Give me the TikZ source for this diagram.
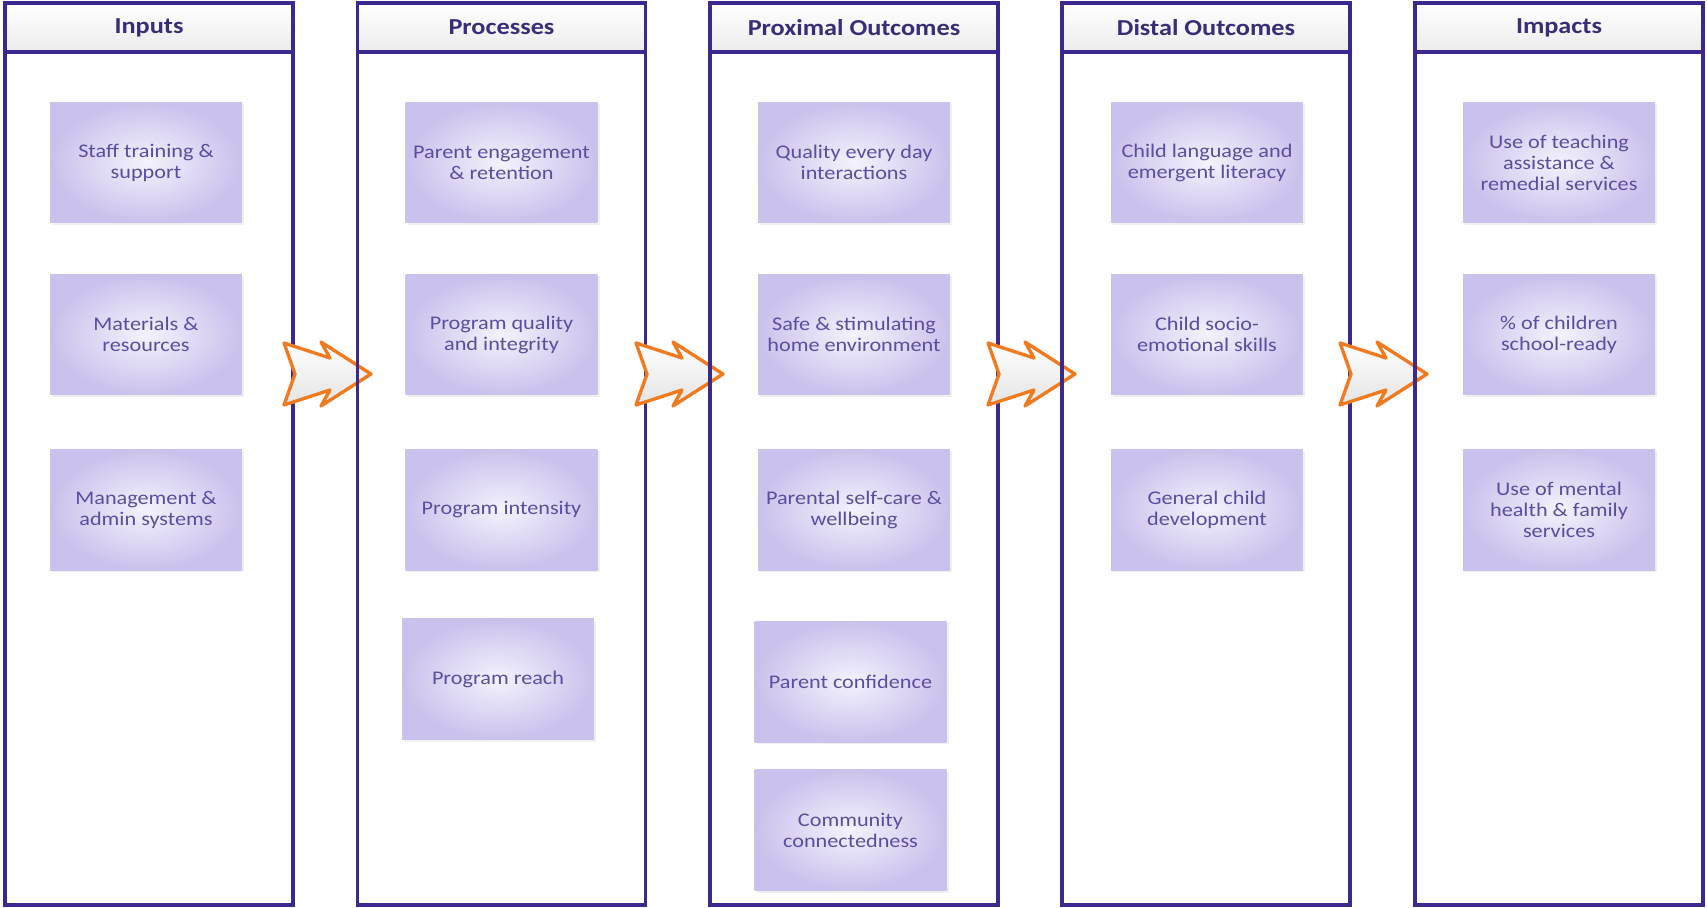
\documentclass[tikz,border=0pt]{standalone}
\usepackage{fontspec}
\setmainfont{Carlito}[FakeStretch=1.15]
\usetikzlibrary{positioning,shadows}

\definecolor{frame}{RGB}{60,40,142}
\definecolor{headtext}{RGB}{58,44,118}
\definecolor{headgray}{RGB}{236,236,236}
\definecolor{boxtext}{RGB}{92,78,158}
\definecolor{boxin}{RGB}{244,242,252}
\definecolor{boxout}{RGB}{202,193,236}
\definecolor{orng}{RGB}{240,122,32}
\definecolor{arrgray}{RGB}{228,228,228}

\begin{document}
\begin{tikzpicture}[x=0.02cm, y=-0.02cm,
    head/.style = {draw=frame, line width=2.1pt, minimum width=5.76cm, minimum height=0.98cm,
        top color=white, bottom color=headgray, text=headtext, font=\fontsize{13}{15}\selectfont\bfseries},
    body/.style = {draw=frame, line width=2.1pt, minimum width=5.76cm, minimum height=17.06cm},
    box/.style = {inner color=boxin, outer color=boxout, minimum width=3.84cm, minimum height=2.42cm,
        align=center, text=boxtext, font=\fontsize{11}{12}\selectfont,
        drop shadow={shadow xshift=1.2pt, shadow yshift=-1.2pt, opacity=0.12}},
    zigarrow/.pic = {
        \draw[orng, line width=1.9pt, line join=round, top color=white, bottom color=arrgray]
            (-11,-31) -- (35,-16) -- (26,-32) -- (76,0) -- (26,32) -- (35,16) -- (-11,31) -- (0,0) -- cycle;
    }]

    \useasboundingbox (0,0) rectangle (1707,907);

    % inputs
    \node[body] (cIn) at (149,478.5) {};
    \node[head] (hIn) at (149,27.5) {Inputs};
    \node[box] (in1) at (146,162.5) {Staff training \&\\support};
    \node[box] (in2) at (146,334.5) {Materials \&\\resources};
    \node[box] (in3) at (146,509.5) {Management \&\\admin systems};
    \pic at (295,374) {zigarrow};

    % processes
    \node[body] (cPr) at (501.5,478.5) {};
    \node[head] (hPr) at (501.5,27.5) {Processes};
    \node[box] (pr1) at (501.5,162.5) {Parent engagement\\\& retention};
    \node[box] (pr2) at (501.5,334.5) {Program quality\\and integrity};
    \node[box] (pr3) at (501.5,509.5) {Program intensity};
    \node[box] (pr4) at (498,679) {Program reach};
    \pic at (647,374) {zigarrow};

    % proximal outcomes
    \node[body] (cPo) at (854,478.5) {};
    \node[head] (hPo) at (854,27.5) {Proximal Outcomes};
    \node[box] (po1) at (854,162.5) {Quality every day\\interactions};
    \node[box] (po2) at (854,334.5) {Safe \& stimulating\\home environment};
    \node[box] (po3) at (854,509.5) {Parental self-care \&\\wellbeing};
    \node[box] (po4) at (850.5,681.5) {Parent confidence};
    \node[box] (po5) at (850.5,830) {Community\\connectedness};
    \pic at (999,374) {zigarrow};

    % distal outcomes
    \node[body] (cDo) at (1206,478.5) {};
    \node[head] (hDo) at (1206,27.5) {Distal Outcomes};
    \node[box] (do1) at (1207,162.5) {Child language and\\emergent literacy};
    \node[box] (do2) at (1207,334.5) {Child socio-\\emotional skills};
    \node[box] (do3) at (1207,509.5) {General child\\development};
    \pic at (1351,374) {zigarrow};

    % impacts
    \node[body] (cIm) at (1559,478.5) {};
    \node[head] (hIm) at (1559,27.5) {Impacts};
    \node[box] (im1) at (1559,162.5) {Use of teaching\\assistance \&\\remedial services};
    \node[box] (im2) at (1559,334.5) {\% of children\\school-ready};
    \node[box] (im3) at (1559,509.5) {Use of mental\\health \& family\\services};

\end{tikzpicture}
\end{document}
